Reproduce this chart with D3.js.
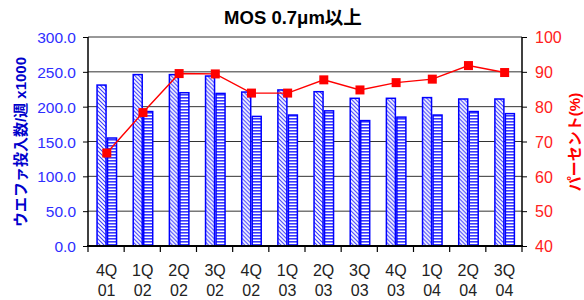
<!DOCTYPE html>
<html>
<head>
<meta charset="utf-8">
<script src="https://cdn.jsdelivr.net/npm/d3@7"></script>
<style>
  body { margin: 0; background: #fff; }
  text { font-family: "Liberation Sans", Arial, "Noto Sans CJK JP", sans-serif; }
</style>
</head>
<body>
<svg id="chart" width="584" height="300"></svg>
<script>
// quarters, two lines each
const quarters = ['4Q', '1Q', '2Q', '3Q', '4Q', '1Q', '2Q', '3Q', '4Q', '1Q', '2Q', '3Q']
const years = ['01', '02', '02', '02', '02', '03', '03', '03', '03', '04', '04', '04']
// wafer starts per week x1000 (two series)
const capacity = [231, 246, 246, 244, 221, 224, 221.5, 212, 212, 213, 211, 211]
const actual = [155, 193, 220, 219, 186, 188, 194, 180, 185, 188, 193, 190]
// utilisation percent (right axis)
const percent = [66.7, 78.3, 89.5, 89.4, 83.9, 83.9, 87.7, 84.8, 86.9, 87.9, 91.8, 89.8]
const leftTicks = [0, 50, 100, 150, 200, 250, 300]
const rightTicks = [40, 50, 60, 70, 80, 90, 100]

const margin = { top: 37, right: 62, bottom: 54, left: 88 }
const fullWidth = 584
const fullHeight = 300
const width = fullWidth - margin.left - margin.right
const height = fullHeight - margin.top - margin.bottom

const svg = d3.select('#chart')

// patterns for the two bar series
const defs = svg.append('defs')
const diag = defs.append('pattern')
  .attr('id', 'diag')
  .attr('patternUnits', 'userSpaceOnUse')
  .attr('width', 4).attr('height', 4)
diag.append('rect').attr('width', 4).attr('height', 4).attr('fill', '#fff')
diag.append('path')
  .attr('d', 'M-1,-1 L5,5 M-1,3 L1,5 M3,-1 L5,1')
  .attr('stroke', '#3a3aff').attr('stroke-width', 1.1)

const horiz = defs.append('pattern')
  .attr('id', 'horiz')
  .attr('patternUnits', 'userSpaceOnUse')
  .attr('width', 4).attr('height', 3)
horiz.append('rect').attr('width', 4).attr('height', 3).attr('fill', '#fff')
horiz.append('rect').attr('y', 0).attr('width', 4).attr('height', 1.6).attr('fill', '#3a3aff')

const g = svg.append('g')
  .attr('transform', `translate(${margin.left},${margin.top})`)

const idx = d3.range(quarters.length)

const x0 = d3.scaleBand()
  .domain(idx)
  .range([0, width])

const x1 = d3.scaleBand()
  .domain(['capacity', 'actual'])
  .range([8.3, 29.3])

const yLeft = d3.scaleLinear()
  .domain([0, 300])
  .range([height, 0])

const yRight = d3.scaleLinear()
  .domain([40, 100])
  .range([height, 0])

// gridlines
g.append('g')
  .selectAll('line')
  .data(leftTicks)
  .enter().append('line')
  .attr('x1', 0).attr('x2', width)
  .attr('y1', d => yLeft(d)).attr('y2', d => yLeft(d))
  .attr('stroke', '#333').attr('stroke-width', 1)

// bars
const groups = g.selectAll('.grp')
  .data(idx)
  .enter().append('g')
  .attr('class', 'grp')
  .attr('transform', d => `translate(${x0(d)},0)`)

groups.append('rect')
  .attr('x', x1('capacity') + 0.75)
  .attr('y', d => yLeft(capacity[d]))
  .attr('width', x1.bandwidth() - 1.5)
  .attr('height', d => height - yLeft(capacity[d]))
  .attr('fill', 'url(#diag)')
  .attr('stroke', '#0000ff').attr('stroke-width', 1.5)

groups.append('rect')
  .attr('x', x1('actual') + 0.75)
  .attr('y', d => yLeft(actual[d]))
  .attr('width', x1.bandwidth() - 1.5)
  .attr('height', d => height - yLeft(actual[d]))
  .attr('fill', 'url(#horiz)')
  .attr('stroke', '#0000ff').attr('stroke-width', 1.5)

// left axis
const leftAxis = d3.axisLeft(yLeft)
  .tickValues(leftTicks)
  .tickFormat(d3.format('.1f'))
  .tickSize(5)
  .tickPadding(7)
const la = g.append('g').call(leftAxis)
la.select('.domain').attr('stroke', '#000').attr('stroke-width', 1.5).attr('d', `M0,${height}V0`)
la.selectAll('.tick line').attr('stroke', '#000')
la.selectAll('.tick text')
  .attr('fill', '#2e2eff')
  .attr('font-size', 15.5)
  .attr('dy', '0.36em')

// right axis
const rightAxis = d3.axisRight(yRight)
  .tickValues(rightTicks)
  .tickSize(5)
  .tickPadding(8)
const ra = g.append('g')
  .attr('transform', `translate(${width},0)`)
  .call(rightAxis)
ra.select('.domain').attr('stroke', '#000').attr('stroke-width', 1.5).attr('d', `M0,${height}V0`)
ra.selectAll('.tick line').attr('stroke', '#000')
ra.selectAll('.tick text')
  .attr('fill', '#ff2020')
  .attr('font-size', 16)
  .attr('dy', '0.36em')

// bottom axis (ticks at category boundaries)
const xa = g.append('g').attr('transform', `translate(0,${height})`)
xa.append('line')
  .attr('x1', -1).attr('x2', width + 1)
  .attr('stroke', '#000').attr('stroke-width', 2)
xa.selectAll('.xt')
  .data(d3.range(quarters.length + 1))
  .enter().append('line')
  .attr('x1', d => d * x0.step()).attr('x2', d => d * x0.step())
  .attr('y1', 0).attr('y2', 6)
  .attr('stroke', '#000').attr('stroke-width', 1.2)

const xl = xa.selectAll('.xl')
  .data(idx)
  .enter().append('text')
  .attr('text-anchor', 'middle')
  .attr('font-size', 16)
  .attr('fill', '#222')
  .attr('transform', d => `translate(${x0(d) + x0.bandwidth() / 2 + 0.5},0)`)
xl.append('tspan').attr('x', 0).attr('y', 30).text(d => quarters[d])
xl.append('tspan').attr('x', 0).attr('y', 50).text(d => years[d])

// percent line
const cx = d => x0(d) + (x1('capacity') + x1('actual') + x1.bandwidth()) / 2
const line = d3.line()
  .x(d => cx(d))
  .y(d => yRight(percent[d]))
g.append('path')
  .datum(idx)
  .attr('d', line)
  .attr('fill', 'none')
  .attr('stroke', '#ff0000').attr('stroke-width', 1.4)

g.selectAll('.mk')
  .data(idx)
  .enter().append('rect')
  .attr('x', d => cx(d) - 4.5)
  .attr('y', d => yRight(percent[d]) - 4.5)
  .attr('width', 9).attr('height', 9)
  .attr('fill', '#ff0000')

// titles
svg.append('text')
  .attr('x', 293).attr('y', 24)
  .attr('text-anchor', 'middle')
  .attr('font-size', 18.5)
  .attr('font-weight', 'bold')
  .attr('fill', '#000')
  .text('MOS 0.7μm以上')

svg.append('text')
  .attr('transform', 'translate(26,142) rotate(-90)')
  .attr('text-anchor', 'middle')
  .attr('font-size', 15)
  .attr('font-weight', 'bold')
  .attr('fill', '#0000cc')
  .text('ウエファ投入数/週 x1000')

svg.append('text')
  .attr('transform', 'translate(580,142) rotate(-90)')
  .attr('text-anchor', 'middle')
  .attr('font-size', 15)
  .attr('font-weight', 'bold')
  .attr('fill', '#ff0000')
  .text('パーセント(%)')
</script>
</body>
</html>
